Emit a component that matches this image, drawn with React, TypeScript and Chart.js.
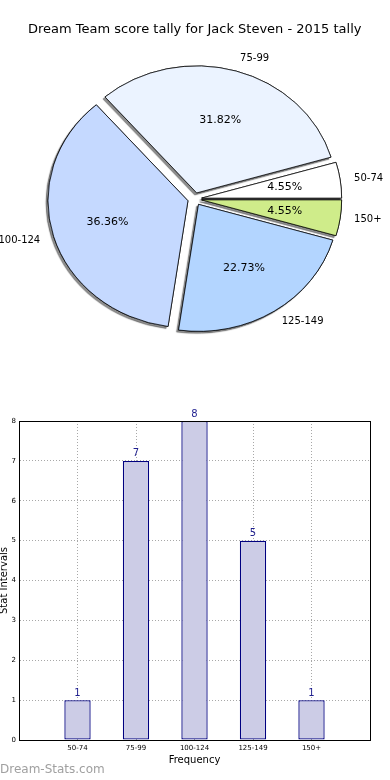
import React, { useEffect, useRef } from 'react';
import { Chart, registerables } from 'chart.js';

Chart.register(...registerables);

// ---- data ----
const categories = ['50-74', '75-99', '100-124', '125-149', '150+'];
const frequencies = [1, 7, 8, 5, 1];
const pieColors = ['#FFFFFF', '#EBF3FF', '#C5D9FF', '#B3D5FF', '#CFEC8A'];
const explode = [0.05, 0.05, 0.05, 0.05, 0.05];
const yMax = 8;

const chartTitle = 'Dream Team score tally for Jack Steven - 2015 tally';
const xTitle = 'Frequency';
const yTitle = 'Stat Intervals';
const watermark = 'Dream-Stats.com';

// ---- style constants ----
const FONT = "'DejaVu Sans', 'Liberation Sans', sans-serif";
const PIE_R = 140; // horizontal radius
const PIE_K = 127 / 140; // vertical squash (axes not equal aspect)

// matplotlib draws counter-clockwise from 3 o'clock; Chart.js draws clockwise,
// so the order is reversed and rotation starts at 3 o'clock.
const pieLabels = [...categories].reverse();
const pieValues = [...frequencies].reverse();
const pieBg = [...pieColors].reverse();
const pieExplode = [...explode].reverse();

const pieShapePlugin = {
  id: 'pieShape',
  beforeDatasetDraw() {
    return false; // drawn by this plugin (exploded + shadowed + squashed)
  },
  afterDatasetsDraw(chart: any) {
    const ctx = chart.ctx;
    const meta = chart.getDatasetMeta(0);
    const ds = chart.data.datasets[0];
    const el0 = meta.data[0];
    const cx = el0.x;
    const cy = el0.y;
    const drawAll = () => {
      meta.data.forEach((el: any, i: number) => {
        const mid = (el.startAngle + el.endAngle) / 2;
        const d = pieExplode[i] * el.outerRadius;
        ctx.save();
        ctx.translate(Math.cos(mid) * d, Math.sin(mid) * d);
        el.draw(ctx);
        ctx.restore();
      });
    };
    ctx.save();
    ctx.translate(cx, cy);
    ctx.scale(1, PIE_K);
    ctx.translate(-cx, -cy);
    ctx.save();
    ctx.shadowColor = 'rgba(0,0,0,0.45)';
    ctx.shadowOffsetX = -2;
    ctx.shadowOffsetY = 2;
    ctx.shadowBlur = 1;
    drawAll();
    ctx.restore();
    drawAll();
    ctx.restore();

    const total = ds.data.reduce((a: number, b: number) => a + b, 0);
    ctx.save();
    ctx.fillStyle = '#000';
    ctx.textBaseline = 'middle';
    meta.data.forEach((el: any, i: number) => {
      const { x, y, startAngle, endAngle, outerRadius } = el;
      const mid = (startAngle + endAngle) / 2;
      const off = pieExplode[i] * outerRadius;
      const pt = (dist: number) => ({
        px: x + Math.cos(mid) * dist,
        py: y + Math.sin(mid) * dist * PIE_K,
      });
      const lab = pt(off + 1.1 * outerRadius);
      ctx.font = `10px ${FONT}`;
      ctx.textAlign = Math.cos(mid) >= 0 ? 'left' : 'right';
      ctx.fillText(chart.data.labels[i], lab.px, lab.py);
      const pc = pt(off + 0.6 * outerRadius);
      ctx.font = `11px ${FONT}`;
      ctx.textAlign = 'center';
      ctx.fillText(((ds.data[i] / total) * 100).toFixed(2) + '%', pc.px, pc.py);
    });
    ctx.restore();
  },
};

const barPlugin = {
  id: 'barDecor',
  afterDatasetsDraw(chart: any) {
    const ctx = chart.ctx;
    const { left, top, right, bottom } = chart.chartArea;
    ctx.save();
    ctx.strokeStyle = '#000';
    ctx.lineWidth = 1;
    ctx.strokeRect(Math.round(left) + 0.5, Math.round(top) + 0.5, Math.round(right - left), Math.round(bottom - top));
    const meta = chart.getDatasetMeta(0);
    const ds = chart.data.datasets[0];
    ctx.font = `10px ${FONT}`;
    ctx.fillStyle = '#1f1f8f';
    ctx.textAlign = 'center';
    ctx.textBaseline = 'bottom';
    meta.data.forEach((el: any, i: number) => {
      ctx.fillText(String(ds.data[i].y), el.x, el.y - 2);
    });
    ctx.restore();
  },
};

export default function App() {
  const pieRef = useRef<HTMLCanvasElement>(null);
  const barRef = useRef<HTMLCanvasElement>(null);

  useEffect(() => {
    const pie = new Chart(pieRef.current as HTMLCanvasElement, {
      type: 'pie',
      data: {
        labels: pieLabels,
        datasets: [
          {
            data: pieValues,
            backgroundColor: pieBg,
            borderColor: '#000',
            borderWidth: 0.8,
            clip: false,
            rotation: 90,
            radius: PIE_R,
          } as any,
        ],
      },
      options: {
        animation: false,
        responsive: false,
        events: [],
        rotation: 90,
        radius: PIE_R,
        layout: { padding: { top: 0, bottom: 39.6, left: 0, right: 0.6 } },
        plugins: {
          legend: { display: false },
          tooltip: { enabled: false },
          title: {
            display: true,
            text: chartTitle,
            color: '#000',
            font: { family: FONT, size: 13, weight: 'normal' },
            padding: { top: 22, bottom: 10 },
          },
        },
      } as any,
      plugins: [pieShapePlugin],
    });

    const barData = categories.map((_, i) => ({ x: i, y: frequencies[i] }));
    const gridOpts = { color: '#a8a8a8', lineWidth: 1, drawTicks: false, offset: false };
    const borderOpts = { color: '#000', width: 1, dash: [1, 2] };
    const bar = new Chart(barRef.current as HTMLCanvasElement, {
      type: 'bar',
      data: {
        datasets: [
          {
            data: barData,
            backgroundColor: '#CCCCE6',
            borderColor: '#000080',
            borderWidth: 1.3,
            borderSkipped: false,
            barPercentage: 0.45,
            categoryPercentage: 1,
          } as any,
        ],
      },
      options: {
        animation: false,
        responsive: false,
        events: [],
        layout: { padding: { top: 21, right: 20, left: 0, bottom: 0 } },
        scales: {
          x: {
            type: 'linear',
            min: -1,
            max: categories.length,
            offset: false,
            z: 1,
            ticks: {
              stepSize: 1,
              autoSkip: false,
              maxRotation: 0,
              color: '#000',
              padding: 4,
              font: { family: FONT, size: 7 },
              callback: (v: any) => categories[v] ?? '',
            },
            grid: gridOpts,
            border: borderOpts,
            title: {
              display: true,
              text: xTitle,
              color: '#000',
              font: { family: FONT, size: 10 },
              padding: { top: 0, bottom: 14 },
            },
            afterFit: (s: any) => {
              s.height = 40;
            },
          },
          y: {
            min: 0,
            max: yMax,
            z: 1,
            ticks: {
              stepSize: 1,
              color: '#000',
              padding: 3,
              font: { family: FONT, size: 7 },
            },
            grid: gridOpts,
            border: borderOpts,
            title: {
              display: true,
              text: yTitle,
              color: '#000',
              font: { family: FONT, size: 10, lineHeight: 0.8 },
              padding: 0,
            },
            afterFit: (s: any) => {
              s.width = 19;
            },
          },
        },
        plugins: { legend: { display: false }, tooltip: { enabled: false } },
      } as any,
      plugins: [barPlugin],
    });

    return () => {
      pie.destroy();
      bar.destroy();
    };
  }, []);

  return (
    <div style={{ position: 'absolute', left: 0, top: 0, width: 390, height: 780, background: '#fff' }}>
      <canvas ref={pieRef} width={390} height={390} style={{ position: 'absolute', left: 0, top: 0, display: 'block' }} />
      <canvas ref={barRef} width={390} height={380} style={{ position: 'absolute', left: 0, top: 400, display: 'block' }} />
      <div
        style={{
          position: 'absolute',
          left: 0,
          top: 762,
          font: `12px ${FONT}`,
          color: '#a0a0a0',
          whiteSpace: 'nowrap',
        }}
      >
        {watermark}
      </div>
    </div>
  );
}
